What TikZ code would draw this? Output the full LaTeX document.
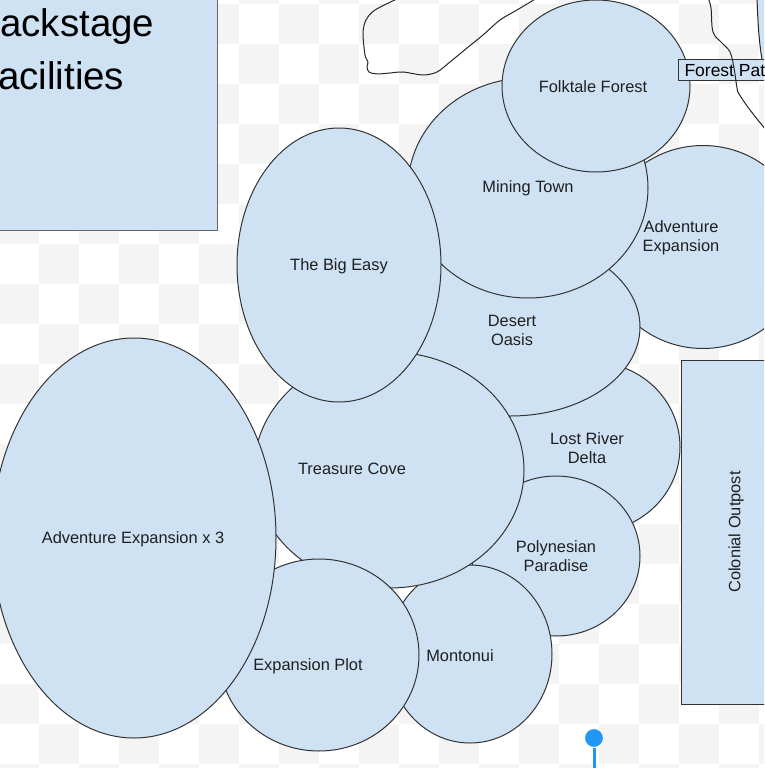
\documentclass[tikz,border=0pt]{standalone}
\usepackage{fontspec}
\setmainfont{Liberation Sans}
\usepackage{xcolor}
\usepackage{tikz}
\usetikzlibrary{shapes.geometric}

\definecolor{zoneblue}{HTML}{CFE2F3}
\definecolor{checkgray}{HTML}{F4F4F4}
\definecolor{edgegray}{HTML}{333333}
\definecolor{pinblue}{HTML}{2196F3}

\begin{document}
\begin{tikzpicture}[x=1pt, y=-1pt,
  zone/.style={ellipse, draw=edgegray, fill=zoneblue, line width=1pt, inner sep=0pt},
  zonetext/.style={font=\fontsize{16.4}{19}\selectfont, align=center, text=black!88},
  block/.style={draw=edgegray, fill=zoneblue, line width=1pt, inner sep=0pt},
  trail/.style={draw=black!85, line width=1pt, line join=round},
  pin/.style={circle, fill=pinblue, draw=white, line width=1pt, minimum size=19, inner sep=0pt}
]
\useasboundingbox (0,0) rectangle (764,768);
\clip (0,0) rectangle (764,768);
\fill[white] (0,0) rectangle (764,768);
% checker background
\foreach \r in {-1,...,19}{
  \foreach \c in {0,...,19}{
    \pgfmathtruncatemacro{\odd}{mod(\r+\c+2,2)}
    \ifnum\odd=1 \fill[checkgray] (40*\c-1, 40*\r+4) rectangle ++(40,40); \fi
  }
}

% shape cut off at the top right corner
\fill[zoneblue] (757,-2) .. controls (758,30) and (760,50) .. (763,65) -- (770,80) -- (770,-2) -- cycle;
\draw[trail] (757,-2) .. controls (758,30) and (760,50) .. (763,65);

% backstage block
\node[block, draw=black!60, anchor=south east, minimum width=240, minimum height=245] (backstage) at (218,231) {};
\node[font=\fontsize{38.5}{53}\selectfont, align=left, anchor=base west, inner sep=0pt] (backstage-t) at (-25.7,89) {Backstage\\Facilities};

% lands, back to front
\node[zone, minimum width=206, minimum height=203] (advexp) at (703,247) {};
\node[zone, minimum width=176, minimum height=170] (lostriver) at (592,447) {};
\node[zone, minimum width=260, minimum height=178] (desert) at (510,327) {};
\node[zone, minimum width=240, minimum height=220] (mining) at (528,188) {};
\node[zone, minimum width=188, minimum height=172] (folktale) at (596,86) {};
\node[zone, minimum width=168, minimum height=160] (polynesian) at (556,556) {};
\node[zone, minimum width=164, minimum height=178] (montonui) at (470,654) {};
\node[zone, minimum width=270, minimum height=236] (treasure) at (389,470) {};
\node[zone, minimum width=204, minimum height=274] (bigeasy) at (339,265) {};
\node[zone, minimum width=200, minimum height=192] (explot) at (319,655) {};
\node[zone, minimum width=284, minimum height=400] (aex3) at (134,538) {};

% labels
\node[zonetext] (folktale-t) at (593,87) {Folktale Forest};
\node[zonetext] (mining-t) at (528,188) {Mining Town};
\node[zonetext] (advexp-t) at (681,238) {Adventure\\Expansion};
\node[zonetext] (bigeasy-t) at (339,266) {The Big Easy};
\node[zonetext] (desert-t) at (512,330) {Desert\\Oasis};
\node[zonetext] (lostriver-t) at (587,448) {Lost River\\Delta};
\node[zonetext] (treasure-t) at (352,469) {Treasure Cove};
\node[zonetext] (polynesian-t) at (556,556) {Polynesian\\Paradise};
\node[zonetext] (aex3-t) at (133,539) {Adventure Expansion x 3};
\node[zonetext] (explot-t) at (308,666) {Expansion Plot};
\node[zonetext] (montonui-t) at (460,656) {Montonui};

% forest path tag
\node[block, anchor=west, minimum height=21, inner xsep=6, font=\fontsize{17.5}{20}\selectfont] (forestpath) at (678,70) {Forest Path};

% hand drawn trails
\draw[trail] plot[smooth, tension=0.6] coordinates {(708,-2) (711,8) (713,32) (722,43) (730,52) (734,68) (737,88) (739,94) (750,110) (766,130)};
\draw[trail] plot[smooth, tension=0.5] coordinates {(399,-2) (375,10) (366,20) (363,33) (365,55) (368,62) (367,67) (369,72) (377,74) (390,73) (403,72) (423,75) (437,72) (450,62) (467,48) (483,35) (500,20) (517,10) (537,-2)};

% colonial outpost
\node[block, anchor=north west, minimum width=100, minimum height=344] (colonial) at (681,360) {};
\node[zonetext, rotate=90] (colonial-t) at (736,532) {Colonial Outpost};

% pin
\node[pin] (pin) at (594,738) {};
\coordinate (pinfoot) at (594,775);
\draw[pinblue, line width=3] (pin) -- (pinfoot);
\end{tikzpicture}
\end{document}
